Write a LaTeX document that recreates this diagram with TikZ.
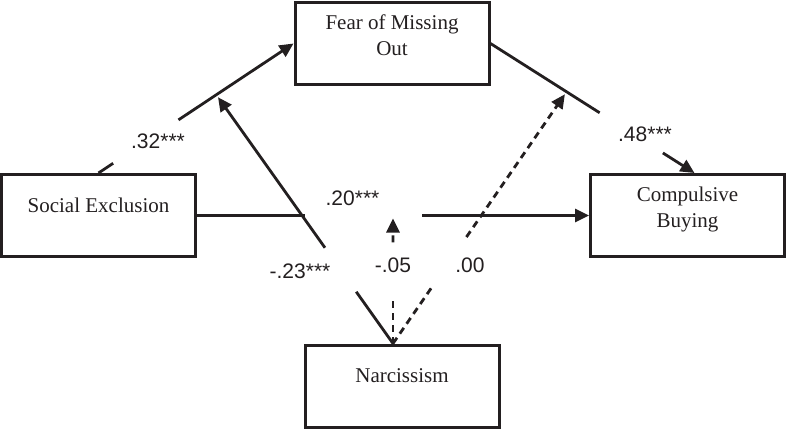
\documentclass[tikz,border=0pt]{standalone}
\usepackage{fontspec}
\setmainfont{Liberation Serif}
\newfontfamily\coeffont{Liberation Sans}
\usepackage{xcolor}
\usetikzlibrary{calc}
\usetikzlibrary{arrows.meta}
\definecolor{ink}{RGB}{35,31,32}

\begin{document}
\begin{tikzpicture}[x=0.5pt,y=-0.5pt,
    box/.style={draw=ink,line width=1.5pt,minimum width=97pt,minimum height=41pt,
        inner sep=0pt,align=center,text=ink,font=\fontsize{10.5}{12.6}\selectfont},
    oneline/.style={text height=7pt,text depth=10.5pt},
    twoline/.style={text height=19.6pt,text depth=8pt},
    coef/.style={inner sep=0pt,text=ink,font=\coeffont\fontsize{10.5}{12.6}\selectfont},
    link/.style={draw=ink,line width=1.4pt},
    modline/.style={link,dash pattern=on 3.5pt off 2.5pt},
    headed/.style={-{Triangle[length=7pt,width=6.5pt]}}]

\useasboundingbox (0,0) rectangle (787,430);

% the four variables
\node[box,twoline] (fomo) at (392,43.5) {Fear of Missing\\Out};
\node[box,oneline] (se) at (98.5,215.5) {Social Exclusion};
\node[box,twoline] (cb) at (687.5,215.5) {Compulsive\\Buying};
\node[box,oneline] (nar) at (402,386) {Narcissism};

% points the moderator arrows run to
\coordinate (mid) at ($(se.east)!0.5!(cb.west)$);
\coordinate (nt) at (mid |- nar.north);
\coordinate (cbn) at ([xshift=3.5pt]cb.north);
\coordinate (pa) at ($(se.north)!0.604!(fomo.west)$);
\coordinate (pb) at ($(fomo.east)!0.373!(cbn)$);

% ends of the gaps left for the coefficients
\coordinate (a1) at ($(se.north)!0.075!(fomo.west)$);
\coordinate (a2) at ($(se.north)!0.41!(fomo.west)$);
\coordinate (b1) at ($(fomo.east)!0.535!(cbn)$);
\coordinate (b2) at ($(fomo.east)!0.845!(cbn)$);
\coordinate (c1) at ($(se.east)!0.2755!(cb.west)$);
\coordinate (c2) at ($(se.east)!0.574!(cb.west)$);
\coordinate (d1) at ($(nt)!0.208!(pa)$);
\coordinate (d2) at ($(nt)!0.385!(pa)$);
\coordinate (e1) at ($(nt)!0.371!(mid)$);
\coordinate (e2) at ($(nt)!0.79!(mid)$);
\coordinate (f1) at ($(nt)!0.22!(pb)$);
\coordinate (f2) at ($(nt)!0.423!(pb)$);

% direct paths
\draw[link] (se.north) -- (a1);
\draw[link,headed] (a2) -- (fomo.west);
\draw[link] (fomo.east) -- (b1);
\draw[link,headed] (b2) -- (cbn);
\draw[link] (se.east) -- (c1);
\draw[link,headed] (c2) -- (cb.west);

% moderation by narcissism
\draw[link] (nt) -- (d1);
\draw[link,headed,shorten >=1.5pt] (d2) -- (pa);
\draw[modline] (nt) -- (e1);
\draw[modline,headed,shorten >=1.5pt] (e2) -- (mid);
\draw[modline] (nt) -- (f1);
\draw[modline,headed,shorten >=1.5pt] (f2) -- (pb);

% coefficients
\node[coef] (ka) at (158,141.5) {.32***};
\node[coef] (kb) at (645,134) {.48***};
\node[coef] (kc) at (352.5,198) {.20***};
\node[coef] (kd) at (300,271.5) {-.23***};
\node[coef] (ke) at (393,265) {-.05};
\node[coef] (kf) at (470,265) {.00};
% \node[coef] at (393,240) {-.05};
\end{tikzpicture}
\end{document}
